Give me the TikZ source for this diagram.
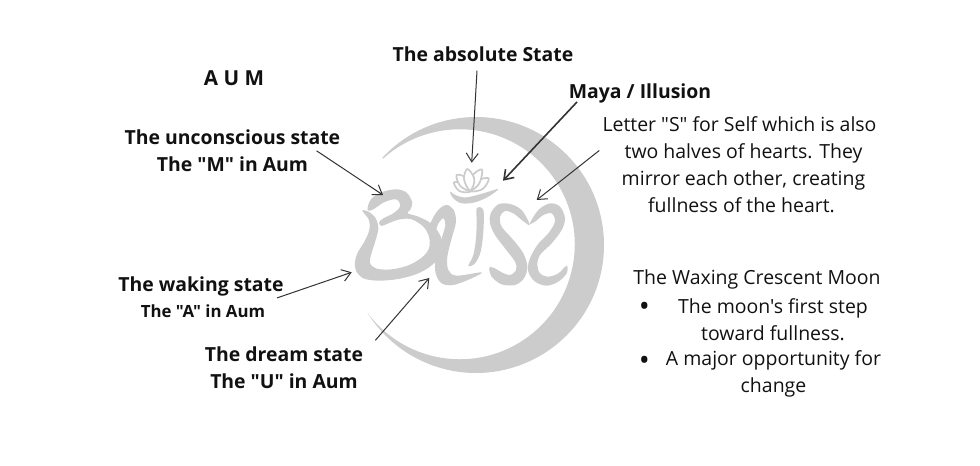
\documentclass[tikz,border=0pt]{standalone}
\usepackage{fontspec}
\setmainfont{Open Sans}[Ligatures=TeXOff]
\usetikzlibrary{arrows.meta}
\definecolor{logogray}{HTML}{CCCCCC}
\definecolor{inkblack}{HTML}{111111}
\definecolor{linegray}{HTML}{333333}

\begin{document}
\begin{tikzpicture}[x=0.75pt,y=-0.75pt,
    head/.style={inner sep=0pt,align=center,text=inkblack,font=\fontsize{14.56}{20.2}\selectfont\bfseries},
    small/.style={inner sep=0pt,align=center,text=inkblack,font=\fontsize{12.6}{16}\selectfont\bfseries},
    body/.style={inner sep=0pt,align=center,text=inkblack,font=\fontsize{14.6}{20.2}\selectfont},
    dot/.style={inner sep=0pt,text=inkblack,font=\fontsize{22}{22}\selectfont},
    pointer/.style={draw=linegray,line width=0.75pt,-{Straight Barb[length=6.5pt,width=9pt]}},
    blob/.style={fill=logogray,draw=none}]
  \useasboundingbox (0,0) rectangle (980,466);

  % crescent
  \fill[logogray] (476,245) ++(-137:128) arc (-137:148:128)
    arc (143.4:-131.8:115) -- cycle;

  % bliss letters, traced in 1/3 px
  \begin{scope}[shift={(340,110)},x=0.25pt,y=-0.25pt]
    \fill[blob,shift={(45,210)}] plot[smooth cycle,tension=0.55] coordinates {
      (38,82) (50,55) (85,35) (125,28) (155,38) (172,68) (165,90) (158,100) (190,110)
      (228,130) (255,165) (262,200) (250,235) (222,262) (185,282) (130,297) (70,302)
      (25,295) (3,272) (0,245) (8,218) (28,185) (43,150) (42,120) (22,92) (42,96)
      (62,115) (70,145) (62,180) (48,225) (45,250) (65,266) (110,268) (160,256)
      (200,233) (222,205) (222,170) (205,140) (170,118) (135,118) (100,130) (80,138)
      (72,128) (85,115) (115,100) (135,80) (130,62) (115,58) (85,68) (55,88) (40,92)};
    \fill[blob] plot[smooth cycle,tension=0.55] coordinates {
      (270,345) (292,303) (318,285) (340,298) (348,335) (335,385) (322,440) (325,480)
      (350,497) (425,487) (395,505) (340,525) (305,520) (287,490) (287,445) (305,385)
      (316,345) (310,325) (295,340) (285,365)};
    \begin{scope}[shift={(330,165)}]
      \fill[blob] plot[smooth cycle,tension=0.55] coordinates {
        (80,130) (100,135) (100,200) (92,260) (75,295) (55,303) (70,270) (78,220) (80,170)};
      \fill[blob] plot[smooth cycle,tension=0.55] coordinates {
        (0,80) (20,92) (50,97) (100,85) (145,72) (115,95) (75,112) (35,115) (10,100)};
      % lotus
      \foreach \petal in {
        {(60,80) (28,78) (12,52) (45,58)},
        {(60,78) (98,72) (116,40) (80,48)},
        {(60,78) (30,62) (20,30) (50,38) (65,60)},
        {(60,78) (88,55) (96,14) (70,28) (58,55)},
        {(58,76) (42,42) (52,12) (72,38) (70,62)}}
        \filldraw[draw=logogray,fill=white,line width=1.3pt] plot[smooth cycle,tension=0.6] coordinates \petal;
      % heart halves
      \fill[blob] plot[smooth cycle,tension=0.55] coordinates {
        (238,175) (215,135) (180,117) (145,118) (122,145) (120,175) (135,210) (165,250)
        (195,290) (198,315) (180,330) (155,322) (135,310) (118,308) (125,335) (155,358)
        (195,360) (222,340) (232,305) (220,265) (190,225) (155,185) (150,155) (165,138)
        (190,145) (215,165) (236,180)};
      \fill[blob] plot[smooth cycle,tension=0.55] coordinates {
        (240,175) (265,135) (300,115) (330,125) (345,160) (335,195) (305,235) (270,270)
        (262,300) (270,325) (295,335) (325,325) (350,302) (350,325) (325,350) (290,362)
        (255,350) (235,320) (238,285) (262,240) (295,205) (315,170) (305,145) (280,150)
        (255,170)};
    \end{scope}
  \end{scope}

  % labels
  \node[head,font=\fontsize{15.5}{20}\selectfont\bfseries] (aum) at (234,78) {A U M};
  \node[head] (absolute) at (483,54) {The absolute State};
  \node[head] (maya) at (640,93) {Maya / Illusion};
  \node[body] (letter) at (739.5,164.5) {Letter "S" for Self which is also\\\hspace*{6pt}two halves of hearts. They\\\hspace*{6pt}mirror each other, creating\\\hspace*{3pt}fullness of the heart.};
  \node[head] (unconscious) at (232.5,151) {The unconscious state\\The "M" in Aum};
  \node[head] (waking) at (201,286.5) {The waking state};
  \node[small] (wakingA) at (203,311) {The "A" in Aum};
  \node[head] (dream) at (284,367.5) {The dream state\\The "U" in Aum};
  \node[body] (moon) at (757,279) {The Waxing Crescent Moon};
  \node[body] (firststep) at (773,319.5) {The moon's first step\\toward fullness.};
  \node[body] (major) at (773.5,373.5) {A major opportunity for\\change};
  \node[dot] (bulletA) at (644.5,309) {•};
  \node[dot] (bulletB) at (644.5,363) {•};

  % arrow tips on the logo
  \coordinate (lotustip) at (471.7,162.7);
  \coordinate (crescenttip) at (503,180.7);
  \coordinate (hearttip) at (536.7,200);
  \coordinate (flagtip) at (383,195);
  \coordinate (bowltip) at (351.7,272.3);
  \coordinate (stemtip) at (429.3,278);

  \draw[pointer] ([shift={(-6,9)}]absolute.south) -- (lotustip);
  \draw[pointer,line width=1.2pt] ([shift={(-63,-1)}]maya.south) -- (crescenttip);
  \draw[pointer] ([shift={(-3,-14)}]letter.west) -- (hearttip);
  \draw[pointer] ([shift={(-24,21)}]unconscious.north east) -- (flagtip);
  \draw[pointer] ([shift={(-7,1.5)}]waking.south east) -- (bowltip);
  \draw[pointer] ([shift={(12,-6)}]dream.north east) -- (stemtip);
\end{tikzpicture}
\end{document}
